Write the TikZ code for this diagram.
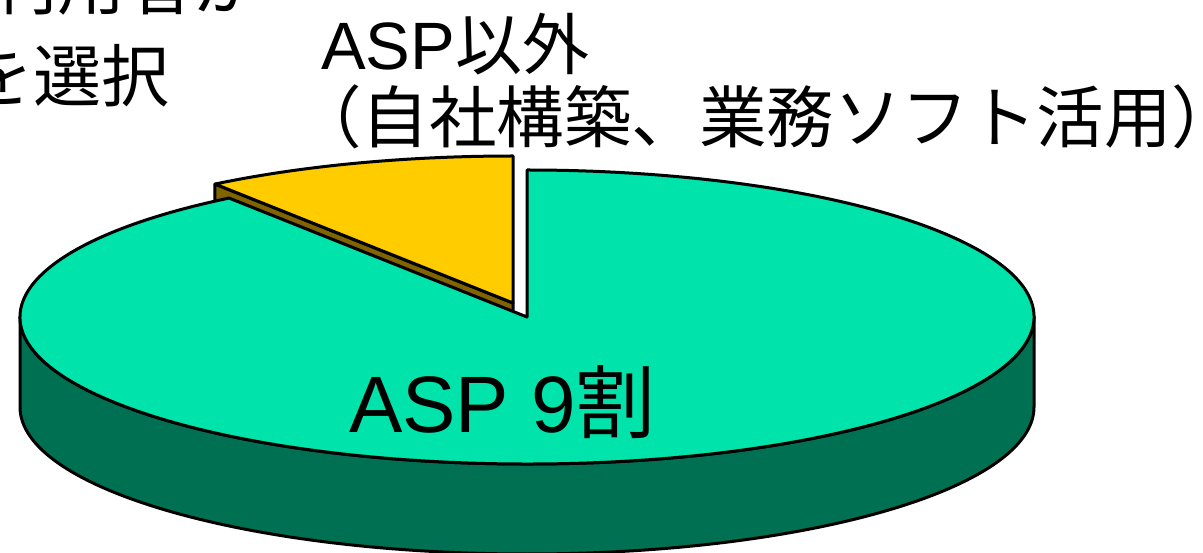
\documentclass[tikz,border=0pt]{standalone}
\usepackage{fontspec}
\setmainfont{Liberation Sans}
\newfontfamily\cjk{Noto Sans CJK JP}
\usetikzlibrary{calc}
\definecolor{topgreen}{RGB}{0,227,170}
\definecolor{sidegreen}{RGB}{0,112,82}
\definecolor{slicey}{RGB}{255,204,0}
\definecolor{sliceside}{RGB}{128,100,0}
\begin{document}
\begin{tikzpicture}[x=1pt,y=1pt,line join=round,
  edge/.style={draw=black,line width=3pt},
  lbl/.style={inner sep=0pt,anchor=base west,text=black}]
\useasboundingbox (0,0) rectangle (1203,552);
\def\pieRX{507}
\def\pieRY{147}
\def\pieH{90}
% centres of the green (ASP) and the exploded yellow slice
\coordinate (G) at (527,235);
\coordinate (Y) at (513,249);
\path (G) ++({\pieRX*cos(126)},{\pieRY*sin(126)}) coordinate (G126);
\path (G) ++(-\pieRX,0) coordinate (GL);
\path (Y) ++({\pieRX*cos(126)},{\pieRY*sin(126)}) coordinate (Y126);
\path (Y) ++(0,\pieRY) coordinate (Y90);
\path (Y126) ++(0,-\pieH) coordinate (Y126b);
\path (Y) ++(0,-\pieH) coordinate (Yb);
% yellow slice: side face, then top
\draw[edge,fill=sliceside] (Y) -- (Y126) -- (Y126b) -- (Yb) -- cycle;
\draw[edge,fill=slicey] (Y) -- (Y90)
  arc[start angle=90,end angle=126,x radius=\pieRX pt,y radius=\pieRY pt] -- cycle;
% green slice: side, then top
\draw[edge,fill=sidegreen] (GL)
  arc[start angle=180,end angle=360,x radius=\pieRX pt,y radius=\pieRY pt]
  -- ++(0,-\pieH)
  arc[start angle=360,end angle=180,x radius=\pieRX pt,y radius=\pieRY pt] -- cycle;
\draw[edge,fill=topgreen] (G) -- (G126)
  arc[start angle=126,end angle=450,x radius=\pieRX pt,y radius=\pieRY pt] -- cycle;
% labels
\node[lbl,font=\fontsize{80}{92}\selectfont] (asp) at (349,119) {ASP 9{\cjk 割}};
\node[lbl,font=\fontsize{67}{78}\selectfont] (other1) at (321,482) {ASP{\cjk 以外}};
\node[lbl,font=\fontsize{67.5}{78}\selectfont\cjk] (other2) at (294,409) {（自社構築、業務ソフト活用）};
\node[inner sep=0pt,anchor=base east,font=\fontsize{68}{80}\selectfont\cjk] (user1) at (262,542) {利用者が};
\node[inner sep=0pt,anchor=base east,font=\fontsize{68}{80}\selectfont\cjk] (user2) at (170,450) {を選択};
\end{tikzpicture}
\end{document}
